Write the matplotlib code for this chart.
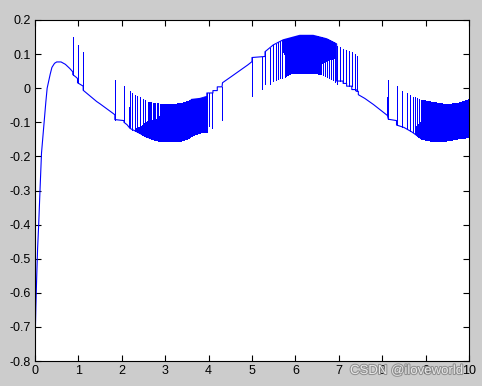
import numpy as np
import matplotlib

matplotlib.use("Agg")
import matplotlib.pyplot as plt
import matplotlib.patheffects as pe

# level the signal sits on (steps written as repeated t)
base_t = [0, 0.02, 0.04, 0.06, 0.085, 0.115, 0.15, 0.21, 0.25, 0.28, 0.35, 0.39,
          0.45, 0.5, 0.6, 0.7, 0.8, 0.87, 0.87, 0.96, 0.98, 0.98, 1.11, 1.11,
          1.42, 1.5, 1.8, 1.84, 1.84, 2.05, 2.05, 2.12, 2.19, 2.35, 2.57, 2.8,
          3.0, 3.3, 3.5, 3.6, 3.6, 3.8, 3.96, 3.96, 4.1, 4.1, 4.2, 4.2, 4.31,
          4.32, 4.5, 4.7, 4.9, 5.0, 5.0, 5.3, 5.3, 5.49, 5.72, 6.1, 6.41, 6.72,
          6.95, 6.95, 7.1, 7.1, 7.18, 7.18, 7.3, 7.3, 7.4, 7.4, 7.45, 7.45, 7.6,
          7.8, 8.0, 8.12, 8.14, 8.33, 8.33, 8.5, 8.68, 8.9, 9.2, 9.5, 9.7, 10]
base_y = [-0.76, -0.64, -0.55, -0.47, -0.40, -0.30, -0.19, -0.10, -0.04, 0.0, 0.041, 0.061,
          0.073, 0.077, 0.077, 0.07, 0.058, 0.048, 0.04, 0.031, 0.028, 0.016, 0.006, -0.006,
          -0.039, -0.046, -0.074, -0.078, -0.092, -0.095, -0.100, -0.107, -0.118, -0.128, -0.143, -0.153,
          -0.156, -0.156, -0.148, -0.14, -0.033, -0.03, -0.024, -0.014, -0.014, -0.007, -0.007, 0.004, 0.004,
          0.016, 0.032, 0.05, 0.068, 0.078, 0.09, 0.093, 0.107, 0.127, 0.142, 0.155, 0.155, 0.145,
          0.13, 0.021, 0.021, 0.014, 0.014, 0.006, 0.006, -0.004, -0.004, -0.009, -0.009, -0.019, -0.03,
          -0.048, -0.068, -0.08, -0.091, -0.095, -0.108, -0.115, -0.128, -0.148, -0.156, -0.153, -0.148, -0.143]

# isolated spikes: time, tip value
spike_t = [0.865, 0.875, 0.98, 1.11, 1.835, 1.845, 2.045, 2.055, 2.17, 2.19, 2.24,
           4.0, 4.07, 4.3, 5.0, 5.22, 5.31, 5.41, 5.49,
           8.12, 8.14, 8.33, 8.46, 8.56, 8.64]
spike_y = [0.10, 0.15, 0.128, 0.107, -0.05, 0.024, -0.04, 0.006, -0.056, -0.007, -0.014,
           -0.11, -0.118, -0.093, -0.024, -0.003, 0.012, 0.012, 0.021,
           -0.027, 0.023, 0.006, -0.007, -0.014, -0.021]

# envelopes of the chattering parts
u1_t = [2.3, 2.4, 2.6, 2.8, 3.1, 3.4, 3.6]
u1_y = [-0.02, -0.025, -0.04, -0.044, -0.048, -0.042, -0.033]
m1_t = [2.3, 2.45, 2.6, 2.8, 2.95, 3.0, 3.5, 3.6]
m1_y = [-0.12, -0.11, -0.095, -0.09, -0.07, -0.05, -0.045, -0.035]
l1_t = [3.6, 3.8, 3.96]
l1_y = [-0.14, -0.13, -0.128]
l2_t = [5.55, 5.72, 5.9, 6.1, 6.4, 6.6, 6.85, 6.95]
l2_y = [0.025, 0.031, 0.044, 0.046, 0.046, 0.041, 0.026, 0.013]
m2_t = [5.7, 5.8, 5.95, 6.25, 6.3, 6.6, 6.9]
m2_y = [0.11, 0.09, 0.05, 0.046, 0.07, 0.075, 0.09]
u2_t = [6.97, 7.18, 7.3, 7.43]
u2_y = [0.125, 0.11, 0.105, 0.095]
u3_t = [8.7, 8.9, 9.2, 9.5, 9.8, 10]
u3_y = [-0.025, -0.034, -0.041, -0.047, -0.041, -0.031]
m3_t = [8.75, 8.9, 9.1, 9.3, 9.6, 9.75, 10]
m3_y = [-0.115, -0.095, -0.065, -0.05, -0.047, -0.045, -0.035]

# (start, end, count, envelope t, envelope y)
bursts = [
    (2.3, 2.6, 6, u1_t, u1_y), (2.62, 2.9, 10, u1_t, u1_y), (2.9, 3.6, 60, u1_t, u1_y),
    (2.3, 3.6, 120, m1_t, m1_y),
    (3.6, 3.96, 25, l1_t, l1_y),
    (5.55, 5.75, 5, l2_t, l2_y), (5.75, 6.6, 60, l2_t, l2_y), (6.6, 6.95, 9, l2_t, l2_y),
    (5.7, 6.9, 110, m2_t, m2_y),
    (6.97, 7.43, 8, u2_t, u2_y),
    (8.7, 8.9, 5, u3_t, u3_y), (8.9, 10, 70, u3_t, u3_y),
    (8.75, 10, 110, m3_t, m3_y),
]

fig = plt.figure(figsize=(4.82, 3.86), dpi=100, facecolor="#cccccc")
ax = fig.add_axes([35 / 482, 1 - 361 / 386, 434 / 482, 341 / 386])
ax.set_facecolor("white")

blue = "#0000ff"
ax.plot(base_t, base_y, color=blue, lw=0.8)

bt = np.array(base_t)
by = np.array(base_y)
xs = list(spike_t)
tips = list(spike_y)
for a, b, n, et, ey in bursts:
    tt = np.linspace(a, b, n)
    xs.extend(tt)
    tips.extend(np.interp(tt, et, ey))
xs = np.array(xs)
ax.vlines(xs, np.interp(xs, bt, by), tips, color=blue, lw=0.55, antialiaseds=False)

ax.set_xlim(0, 10)
ax.set_ylim(-0.8, 0.2)
ax.set_xticks(range(0, 11))
yt = np.round(np.arange(-0.8, 0.21, 0.1), 1)
ax.set_yticks(yt)
ax.set_yticklabels([f"{v:g}" if v != 0 else "0" for v in yt])
ax.tick_params(direction="in", top=True, right=True, length=4, width=0.8,
               labelsize=9, pad=3, colors="black")
for lab in ax.get_xticklabels() + ax.get_yticklabels():
    lab.set_fontfamily("Liberation Sans")
for s in ax.spines.values():
    s.set_linewidth(0.8)

fig.text(350 / 482, 1 - 371 / 386, "CSDN @iloveworld", fontsize=9.5,
         family="Liberation Sans", color="#f0f0f0", alpha=0.9, va="center", ha="left",
         path_effects=[pe.withStroke(linewidth=1.5, foreground="#8a8a8a")])

fig.savefig("out.png", dpi=100, facecolor=fig.get_facecolor())
